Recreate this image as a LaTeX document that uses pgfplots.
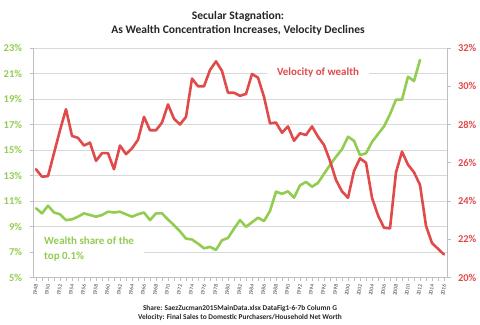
\documentclass[border=0pt]{standalone}
\usepackage{pgfplots}
\pgfplotsset{compat=1.18}
\usepackage{pgfplotstable}
\usepackage{fontspec}
\setmainfont{Carlito}
\definecolor{wgreen}{RGB}{146,204,80}
\definecolor{vred}{RGB}{224,74,74}
\definecolor{gridgray}{RGB}{217,217,217}
\definecolor{axgray}{RGB}{191,191,191}

\pgfplotstableread{
year share
1948 10.43
1949 10.03
1950 10.63
1951 10.10
1952 9.96
1953 9.50
1954 9.56
1955 9.77
1956 10.03
1957 9.90
1958 9.77
1959 9.90
1960 10.16
1961 10.10
1962 10.16
1963 9.96
1964 9.77
1965 9.96
1966 10.10
1967 9.50
1968 10.03
1969 10.03
1970 9.55
1971 9.10
1972 8.62
1973 8.05
1974 7.98
1975 7.66
1976 7.29
1977 7.40
1978 7.16
1979 7.92
1980 8.10
1981 8.83
1982 9.50
1983 8.98
1984 9.33
1985 9.69
1986 9.43
1987 10.22
1988 11.73
1989 11.56
1990 11.76
1991 11.26
1992 12.22
1993 12.50
1994 12.12
1995 12.42
1996 13.13
1997 13.82
1998 14.47
1999 15.06
2000 16.04
2001 15.72
2002 14.60
2003 14.74
2004 15.63
2005 16.25
2006 16.85
2007 17.80
2008 18.95
2009 18.95
2010 20.75
2011 20.41
2012 22.06
}\sharetable

\pgfplotstableread{
year vel
1948 25.66
1949 25.27
1950 25.30
1951 26.50
1952 27.70
1953 28.80
1954 27.40
1955 27.30
1956 26.90
1957 27.05
1958 26.10
1959 26.50
1960 26.50
1961 25.66
1962 26.90
1963 26.45
1964 26.75
1965 27.20
1966 28.40
1967 27.70
1968 27.70
1969 28.10
1970 29.05
1971 28.30
1972 28.00
1973 28.40
1974 30.40
1975 30.00
1976 30.00
1977 30.85
1978 31.30
1979 30.80
1980 29.66
1981 29.66
1982 29.50
1983 29.60
1984 30.64
1985 30.45
1986 29.45
1987 28.06
1988 28.10
1989 27.57
1990 27.90
1991 27.15
1992 27.54
1993 27.45
1994 27.90
1995 27.36
1996 26.93
1997 26.10
1998 25.10
1999 24.50
2000 24.17
2001 25.57
2002 26.23
2003 26.00
2004 24.17
2005 23.25
2006 22.60
2007 22.57
2008 25.50
2009 26.58
2010 25.90
2011 25.50
2012 24.84
2013 22.70
2014 21.80
2015 21.50
2016 21.20
}\veltable

\begin{document}
\begin{tikzpicture}
\pgfplotsset{
  common/.style={
    at={(0,0)}, anchor=south west,
    scale only axis, width=414bp, height=229.5bp,
    xmin=1947.5, xmax=2016.5,
    /pgf/number format/assume math mode=true,
    /pgf/number format/1000 sep={},
    axis line style={axgray, line width=0.6bp},
    tick style={axgray, line width=0.6bp},
    tick align=outside,
    major tick length=3.5bp,
    minor tick length=3.5bp,
  }
}
\begin{axis}[common,
  ymin=5, ymax=23,
  axis x line*=bottom, axis y line*=left,
  ytick={5,7,...,23},
  yticklabel={\pgfmathprintnumber{\tick}\%},
  yticklabel style={font=\fontsize{10.5}{12}\selectfont\bfseries, text=wgreen, xshift=-4bp},
  ymajorgrids, grid style={gridgray, line width=0.7bp},
  xtick={1948,1950,...,2016},
  minor xtick={1949,1951,...,2015},
  xticklabel style={font=\fontsize{5.5}{6}\selectfont, text=black!75, rotate=80, anchor=east, yshift=-1bp},
]
\addplot[wgreen, line width=2.6bp, line join=round, line cap=round] table[x=year, y=share] {\sharetable};
\end{axis}
\begin{axis}[common,
  ymin=20, ymax=32,
  axis y line*=right, axis x line=none,
  ytick={20,22,...,32},
  yticklabel={\pgfmathprintnumber{\tick}\%},
  yticklabel style={font=\fontsize{10.5}{12}\selectfont\bfseries, text=vred, xshift=4bp},
]
\addplot[vred, line width=2.6bp, line join=round, line cap=round] table[x=year, y=vel] {\veltable};
\end{axis}
\node[fill=white, inner xsep=10bp, inner ysep=2bp, text=vred, font=\fontsize{11}{13}\selectfont\bfseries] at (285bp,204.5bp) {Velocity of wealth};
\node[fill=white, anchor=west, align=left, inner xsep=10bp, inner ysep=2bp, text=wgreen, font=\fontsize{11}{16}\selectfont\bfseries] at (1bp,28.5bp) {Wealth share of the\\top 0.1\%};
\node[align=center, font=\fontsize{11.6}{14}\selectfont\bfseries, text=black!85] at (205bp,254.5bp) {Secular Stagnation:\\As Wealth Concentration Increases, Velocity Declines};
\node[align=center, font=\fontsize{7.4}{10}\selectfont\bfseries, text=black!85] at (207bp,-35.5bp) {Share: SaezZucman2015MainData.xlsx DataFig1-6-7b Column G\\Velocity: Final Sales to Domestic Purchasers/Household Net Worth};
\path[use as bounding box] (-33bp,-47.5bp) rectangle (447bp,277.5bp);
\end{tikzpicture}
\end{document}
